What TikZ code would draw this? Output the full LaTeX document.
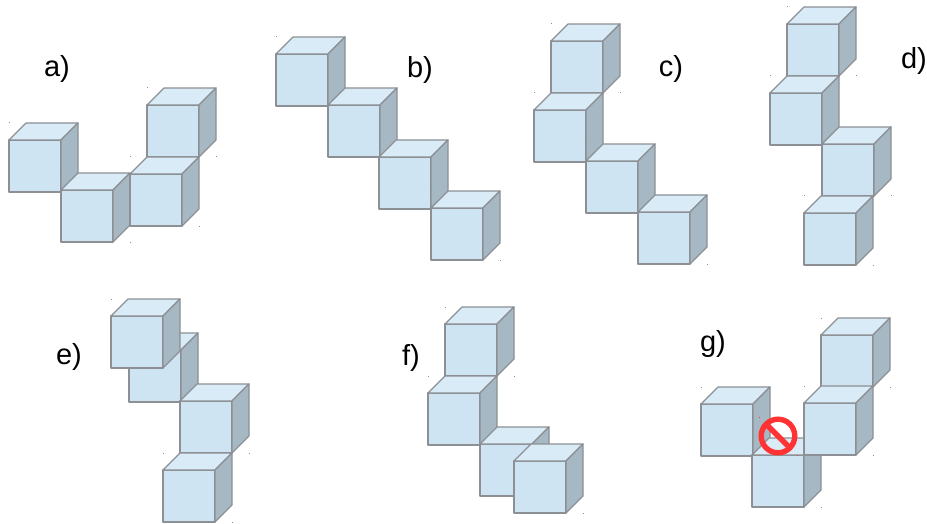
\documentclass[tikz,border=0pt]{standalone}
\usepackage{fontspec}
\setmainfont{Liberation Sans}
\definecolor{blockfront}{HTML}{CFE4F2}
\definecolor{blocktop}{HTML}{D9EBF7}
\definecolor{blockside}{HTML}{A6B8C4}
\definecolor{blockedge}{HTML}{8C9094}
\definecolor{signred}{HTML}{FF3333}

\begin{document}
\begin{tikzpicture}[
  x=1pt,
  y=-1pt,
  every node/.style={font=\fontsize{29}{34}\selectfont, black, inner sep=0pt},
  blockline/.style={draw=blockedge, line width=1.2pt, line join=round},
  signline/.style={signred, line width=5.4pt},
  block/.pic={
    \filldraw[blockline, fill=blockfront] (0,0) rectangle (52,52);
    \filldraw[blockline, fill=blocktop] (0,0) -- (17,-17) -- (69,-17) -- (52,0) -- cycle;
    \filldraw[blockline, fill=blockside] (52,0) -- (69,-17) -- (69,35) -- (52,52) -- cycle;
    \fill[blockedge] (-0.5,-17.5) rectangle (0.5,-16.5);
    \fill[blockedge] (68.5,51.5) rectangle (69.5,52.5);
  }
]
  \useasboundingbox (0,0) rectangle (927,524);

  % ---- a ----
  \foreach \x/\y in {9/140, 61/190, 147/105, 130/174}
    \pic at (\x,\y) {block};
  \node (laba) at (57,69) {a)};

  % ---- b ----
  \foreach \x/\y in {276/54, 328/105, 379/157, 431/208}
    \pic at (\x,\y) {block};
  \node (labb) at (420,70) {b)};

  % ---- c ----
  \foreach \x/\y in {551/41, 534/110, 586/161, 638/212}
    \pic at (\x,\y) {block};
  \node (labc) at (671,69) {c)};

  % ---- d ----
  \foreach \x/\y in {787/24, 770/93, 822/144, 804/213}
    \pic at (\x,\y) {block};
  \node (labd) at (914,61) {d)};

  % ---- e (the first block sits in front of the second) ----
  \foreach \x/\y in {129/350, 111/316, 180/401, 163/470}
    \pic at (\x,\y) {block};
  \node (labe) at (69,357) {e)};

  % ---- f ----
  \foreach \x/\y in {445/324, 428/393, 480/444, 514/461}
    \pic at (\x,\y) {block};
  \node (labf) at (411,358) {f)};

  % ---- g ----
  \foreach \x/\y in {701/404, 752/455, 821/335, 804/403}
    \pic at (\x,\y) {block};
  \node (labg) at (713,344) {g)};

  % ---- forbidden sign on g ----
  \draw[signline] (778,436) circle (16.8);
  \draw[signline] (766,424) -- (790,448);
  \fill[signred] (758.5,416.5) rectangle (759.5,417.5);
  \fill[signred] (796.5,454.5) rectangle (797.5,455.5);
\end{tikzpicture}
\end{document}
